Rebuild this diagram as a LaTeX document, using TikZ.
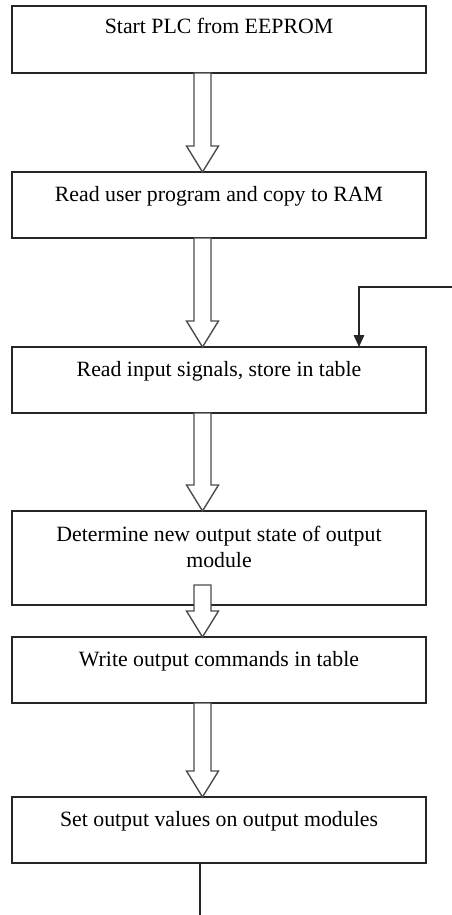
\documentclass[tikz,border=0pt]{standalone}
\usepackage{fontspec}
\setmainfont{Liberation Serif}
\usetikzlibrary{calc,arrows.meta}
\newcommand\blockarrow[2]{%
  \path[blk] let \p1=(#1), \p2=(#2) in
    (\x1-8.5pt,\y1) -- (\x1-8.5pt,\y2+26pt) -- (\x1-16pt,\y2+26pt) -- (\x1,\y2)
    -- (\x1+16pt,\y2+26pt) -- (\x1+8.5pt,\y2+26pt) -- (\x1+8.5pt,\y1) -- cycle;}
\begin{document}
\begin{tikzpicture}[x=1pt,y=-1pt,
  box/.style={draw=black!85, line width=1.6pt, minimum width=414pt, minimum height=#1, inner sep=0pt, outer sep=0pt, anchor=north west},
  lbl/.style={font=\fontsize{21.8}{26}\selectfont, anchor=base, inner sep=0pt, align=center, text=black},
  blk/.style={draw=black!70, line width=1.4pt, fill=white, line join=miter},
  fbline/.style={draw=black!85, line width=1.5pt},
  fbarrow/.style={fbline, -{Triangle[length=12pt,width=10.5pt]}}
]
\useasboundingbox (0,0) rectangle (452,915);
\fill[white] (0,0) rectangle (452,915);

\node[box=67pt] (b1) at (12,6) {};
\node[box=66pt] (b2) at (12,172) {};
\node[box=66pt] (b3) at (12,347) {};
\node[box=94pt] (b4) at (12,511) {};
\node[box=66pt] (b5) at (12,637) {};
\node[box=66pt] (b6) at (12,797) {};

\node[lbl] (t1) at ($(b1.north)+(0,28)$) {Start PLC from EEPROM};
\node[lbl] (t2) at ($(b2.north)+(0,29)$) {Read user program and copy to RAM};
\node[lbl] (t3) at ($(b3.north)+(0,29)$) {Read input signals, store in table};
\node[lbl] (t4a) at ($(b4.north)+(0,30)$) {Determine new output state of output};
\node[lbl] (t4b) at ($(b4.north)+(0,56)$) {module};
\node[lbl] (t5) at ($(b5.north)+(0,29)$) {Write output commands in table};
\node[lbl] (t6) at ($(b6.north)+(0,29)$) {Set output values on output modules};

\blockarrow{$(b1.south)+(-16.5,0)$}{$(b2.north)+(-16.5,0)$}
\blockarrow{$(b2.south)+(-16.5,0)$}{$(b3.north)+(-16.5,0)$}
\blockarrow{$(b3.south)+(-16.5,0)$}{$(b4.north)+(-16.5,0)$}
\blockarrow{$(b4.south)+(-16.5,-20)$}{$(b5.north)+(-16.5,0)$}
\blockarrow{$(b5.south)+(-16.5,0)$}{$(b6.north)+(-16.5,0)$}

\coordinate (fbin) at (452,287);
\draw[fbarrow] (fbin) -| ($(b3.north)+(140,0)$);

\coordinate (fbout) at (200,915);
\draw[fbline] (b6.south -| fbout) -- (fbout);
\end{tikzpicture}
\end{document}
